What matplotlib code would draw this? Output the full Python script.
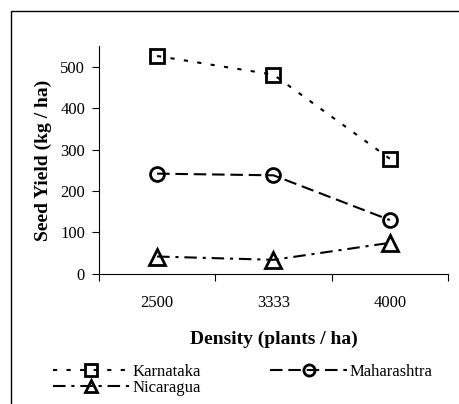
import matplotlib.pyplot as plt
from matplotlib.patches import Rectangle

plt.rcParams['font.family'] = ['Liberation Serif', 'DejaVu Serif']

# seed yield by planting density
density = ["2500", "3333", "4000"]
karnataka = [526, 481, 278]
maharashtra = [242, 238, 130]
nicaragua = [42, 34, 75]

fig = plt.figure(figsize=(4.6, 4.04), dpi=100)
ax = fig.add_axes([0.215, 0.322, 0.759, 0.564])

x = range(len(density))
lw = 1.5
l1, = ax.plot(x, karnataka, color='black', lw=lw, dashes=(2, 4.5),
              marker='s', ms=10, mfc='none', mec='black', mew=2, label='Karnataka')
l2, = ax.plot(x, maharashtra, color='black', lw=lw, dashes=(6, 2.8),
              marker='o', ms=10, mfc='none', mec='black', mew=2, label='Maharashtra')
l3, = ax.plot(x, nicaragua, color='black', lw=lw, dashes=(6, 2.8, 1.5, 2.8),
              marker='^', ms=11, mfc='none', mec='black', mew=2, label='Nicaragua')

ax.set_xlim(-0.5, 2.5)
ax.set_ylim(0, 550)
ax.set_yticks([0, 100, 200, 300, 400, 500])
ax.set_xticks([-0.5, 0.5, 1.5, 2.5])
ax.set_xticklabels([])
ax.set_xticks(list(x), minor=True)
ax.set_xticklabels(density, minor=True)
ax.tick_params(axis='x', which='minor', length=0, pad=15, labelsize=12)
ax.tick_params(axis='x', which='major', length=5, direction='out')
ax.tick_params(axis='y', length=5, direction='out', labelsize=12, pad=5)

ax.spines['top'].set_visible(False)
ax.spines['right'].set_visible(False)

ax.set_xlabel("Density (plants / ha)", fontsize=14, fontweight='bold', labelpad=14)
ax.set_ylabel("Seed Yield (kg / ha)", fontsize=14, fontweight='bold', labelpad=6)

fig.legend([l1, l3, l2], ['Karnataka', 'Nicaragua', 'Maharashtra'],
           ncol=2, loc='upper left', bbox_to_anchor=(0.115, 0.099), frameon=False,
           fontsize=12, handlelength=4.6, handletextpad=0.15, columnspacing=4.2,
           labelspacing=0.0, borderaxespad=0, borderpad=0, markerscale=0.8)

fig.patches.append(Rectangle((11 / 460, -0.1), 1.2, (404 - 11) / 404 + 0.1,
                             transform=fig.transFigure, fill=False,
                             edgecolor='black', lw=1))

fig.savefig("out.png", dpi=100)
